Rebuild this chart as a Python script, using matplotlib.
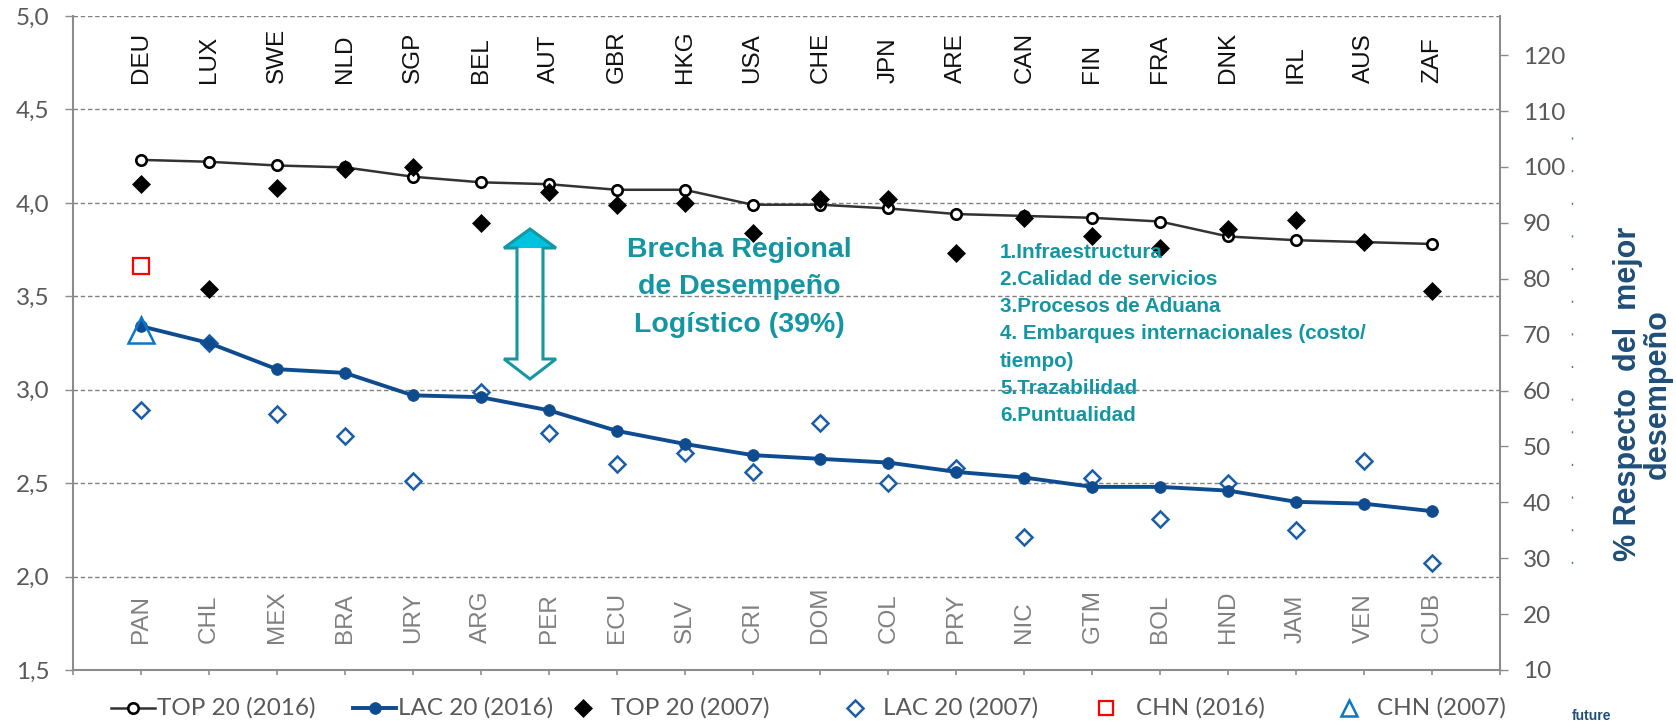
import matplotlib
matplotlib.use("Agg")
import matplotlib.pyplot as plt
from matplotlib.lines import Line2D
from matplotlib.patches import Polygon
import numpy as np

# ---------------- data ----------------
top_countries = ["DEU", "LUX", "SWE", "NLD", "SGP", "BEL", "AUT", "GBR", "HKG", "USA",
                 "CHE", "JPN", "ARE", "CAN", "FIN", "FRA", "DNK", "IRL", "AUS", "ZAF"]
lac_countries = ["PAN", "CHL", "MEX", "BRA", "URY", "ARG", "PER", "ECU", "SLV", "CRI",
                 "DOM", "COL", "PRY", "NIC", "GTM", "BOL", "HND", "JAM", "VEN", "CUB"]
top_2016 = [4.23, 4.22, 4.20, 4.19, 4.14, 4.11, 4.10, 4.07, 4.07, 3.99,
            3.99, 3.97, 3.94, 3.93, 3.92, 3.90, 3.82, 3.80, 3.79, 3.78]
lac_2016 = [3.34, 3.25, 3.11, 3.09, 2.97, 2.96, 2.89, 2.78, 2.71, 2.65,
            2.63, 2.61, 2.56, 2.53, 2.48, 2.48, 2.46, 2.40, 2.39, 2.35]
top_2007 = [4.10, 3.54, 4.08, 4.18, 4.19, 3.89, 4.06, 3.99, 4.00, 3.84,
            4.02, 4.02, 3.73, 3.92, 3.82, 3.76, 3.86, 3.91, 3.79, 3.53]
lac_2007 = [2.89, 3.25, 2.87, 2.75, 2.51, 2.99, 2.77, 2.60, 2.66, 2.56,
            2.82, 2.50, 2.58, 2.21, 2.53, 2.31, 2.50, 2.25, 2.62, 2.07]
chn_2016 = [3.66]
chn_2007 = [3.32]
left_ticks = [1.5, 2.0, 2.5, 3.0, 3.5, 4.0, 4.5, 5.0]
right_ticks = [10, 20, 30, 40, 50, 60, 70, 80, 90, 100, 110, 120]
series_names = ["TOP 20 (2016)", "LAC 20 (2016)", "TOP 20 (2007)",
                "LAC 20 (2007)", "CHN (2016)", "CHN (2007)"]
gap_lines = ["Brecha Regional", "de Desempeño", "Logístico (39%)"]
factor_lines = ["1.Infraestructura", "2.Calidad de servicios", "3.Procesos de Aduana",
                "4. Embarques internacionales (costo/", "tiempo)", "5.Trazabilidad",
                "6.Puntualidad"]
right_label = "% Respecto  del  mejor\ndesempeño"

# ---------------- layout helpers ----------------
W, H = 1676, 724
def fx(px):
    return px / W
def fy(py):
    return 1 - py / H

TEAL = "#1496a2"
GRAY_TXT = "#595959"
AXIS_GRAY = "#8c8c8c"
TICK_FONT = "Lato"
ARIAL = "Liberation Sans"

fig = plt.figure(figsize=(W / 100, H / 100), dpi=100)
ax = fig.add_axes([fx(73), fy(670), fx(1500 - 73), (670 - 16) / H])

x = np.arange(1, len(top_countries) + 1)

styles = [
    dict(color="#333333", lw=1.8, marker="o", ms=7.5, mfc="white", mec="black", mew=1.9, zorder=4),
    dict(color="#0e4c8f", lw=2.8, marker="o", ms=8.5, mfc="#0e4c8f", mec="#0e4c8f", mew=0.5, zorder=5),
    dict(color="black", ls="none", marker="D", ms=9, mfc="black", mec="black", mew=0.5, zorder=6),
    dict(color="#1a5ea8", ls="none", marker="D", ms=8, mfc="white", mec="#1a5ea8", mew=1.8, zorder=4.5),
    dict(color="red", ls="none", marker="s", ms=11, mfc="none", mec="#ff0000", mew=1.6, zorder=7),
    dict(color="#0070c0", ls="none", marker="^", ms=19, mfc="none", mec="#0a78c8", mew=1.8, zorder=8),
]
legend_ms = [7.5, 8.5, 9, 8, 10.5, 12]

ax.plot(x, top_2016, **styles[0])
ax.plot(x, lac_2016, **styles[1])
ax.plot(x, top_2007, **styles[2])
ax.plot(x, lac_2007, **styles[3])
ax.plot(x[:1], chn_2016, **styles[4])
ax.plot(x[:1], chn_2007, **styles[5])

ax.set_xlim(0, len(top_countries) + 1)
ax.set_ylim(1.5, 5.0)
ax.set_yticks(left_ticks)
ax.set_yticklabels([f"{v:.1f}".replace(".", ",") for v in left_ticks])
ax.set_xticks(np.arange(0, len(top_countries) + 2))
ax.set_xticklabels([])
ax.tick_params(axis="x", length=3.8, width=1.2, color=AXIS_GRAY, direction="out")
ax.tick_params(axis="y", length=6, width=1.0, color=AXIS_GRAY, direction="out",
               pad=11, labelsize=17.5, labelcolor=GRAY_TXT)
for lab in ax.get_yticklabels():
    lab.set_fontfamily(TICK_FONT)
ax.yaxis.grid(True, color="#808080", lw=1.0, ls=(0, (3.2, 2.0)))
ax.set_axisbelow(True)
for s in ["top", "right"]:
    ax.spines[s].set_visible(False)
for s in ["left", "bottom"]:
    ax.spines[s].set_color(AXIS_GRAY)
    ax.spines[s].set_linewidth(1.5)

# country labels
for i, c in zip(x, top_countries):
    ax.text(i, 4.644, c, rotation=90, ha="center", va="bottom", fontsize=17.5,
            family=ARIAL, color="#111111", zorder=3)
for i, c in zip(x, lac_countries):
    ax.text(i, 1.644, c, rotation=90, ha="center", va="bottom", fontsize=17.5,
            family=ARIAL, color="#808080", zorder=3)

# right axis
ax2 = ax.twinx()
ax2.set_ylim(10, 127)
ax2.set_yticks(right_ticks)
ax2.set_yticklabels([str(v) for v in right_ticks])
ax2.tick_params(axis="y", length=6, width=1.0, color=AXIS_GRAY, direction="out",
                pad=10.5, labelsize=17.5, labelcolor=GRAY_TXT)
for lab in ax2.get_yticklabels():
    lab.set_fontfamily(TICK_FONT)
for s in ["top", "left", "bottom"]:
    ax2.spines[s].set_visible(False)
ax2.spines["right"].set_color(AXIS_GRAY)
ax2.spines["right"].set_linewidth(1.5)

fig.text(fx(1643), fy(394), right_label, rotation=90, ha="center", va="center",
         multialignment="center", fontsize=22, fontweight="bold", family=ARIAL,
         color="#1f4e79", linespacing=1.0)

# faint dashed artefact line and "future" text at the bottom edge
fig.add_artist(Line2D([fx(1572), fx(1572)], [fy(137), fy(570)], color="#1f4e79",
                      lw=1.0, ls=(0, (1.5, 22)), alpha=0.8))
fig.text(fx(1572), fy(723), "future", ha="left", va="bottom", fontsize=10,
         fontweight="bold", family=ARIAL, color="#1f4e79")

# double arrow
arrow_pts = [(530, 229), (556, 248), (543, 248), (543, 359), (556, 359), (530, 379),
             (504, 359), (517, 359), (517, 248), (504, 248)]
head_pts = [(530, 229), (556, 248), (504, 248)]
fig.add_artist(Polygon([(fx(a), fy(b)) for a, b in head_pts], closed=True,
                       facecolor="#00c4df", edgecolor="none", zorder=5))
fig.add_artist(Polygon([(fx(a), fy(b)) for a, b in arrow_pts], closed=True,
                       facecolor="none", edgecolor="#1597a3", lw=2.2, zorder=6,
                       joinstyle="miter"))

# gap text
for k, line in enumerate(gap_lines):
    fig.text(fx(739), fy(250 + 37.5 * k), line, ha="center", va="center", fontsize=20.5,
             fontweight="bold", family=ARIAL, color=TEAL)

# factor list
for k, line in enumerate(factor_lines):
    fig.text(fx(1000), fy(252 + 27.3 * k), line, ha="left", va="center", fontsize=14.9,
             fontweight="bold", family=ARIAL, color=TEAL)

# legend (manual, Excel-like spacing)
leg_y = fy(708)
handle_spans = [(111, 155), (353, 396), (562, 604), (834, 876), (1085, 1127), (1328, 1370)]
text_x = [157, 398, 611, 883, 1136, 1377]
for st, ms, (a, b), tx, name in zip(styles, legend_ms, handle_spans, text_x, series_names):
    kw = dict(st)
    kw.pop("zorder", None)
    kw["ms"] = ms
    if kw.get("ls") == "none":
        line = Line2D([fx((a + b) / 2)], [leg_y], **kw)
    else:
        line = Line2D([fx(a), fx((a + b) / 2), fx(b)], [leg_y] * 3, markevery=[1], **kw)
    fig.add_artist(line)
    fig.text(fx(tx), leg_y, name, ha="left", va="center", fontsize=17.5,
             family=TICK_FONT, color=GRAY_TXT)

fig.savefig("out.png", dpi=100, facecolor="white")
